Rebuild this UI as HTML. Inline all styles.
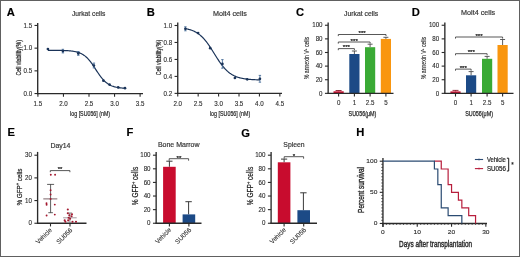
<!DOCTYPE html>
<html><head><meta charset="utf-8"><style>
html,body{margin:0;padding:0;background:#fff;}
body{width:520px;height:257px;overflow:hidden;}
svg{display:block;font-family:"Liberation Sans", sans-serif;will-change:transform;}
</style></head><body>
<svg width="520" height="257" viewBox="0 0 520 257">
<rect x="0" y="0" width="520" height="257" fill="#fff"/>
<text x="6.70" y="15.70" font-size="11.2" text-anchor="start" fill="#000" font-weight="bold" stroke="#000" stroke-width="0.15" >A</text>
<text x="88.70" y="16.20" font-size="7.3" text-anchor="middle" fill="#333" font-weight="normal" textLength="33.40" lengthAdjust="spacingAndGlyphs" stroke="#333" stroke-width="0.18" >Jurkat cells</text>
<line x1="37.70" y1="23.00" x2="37.70" y2="94.15" stroke="#2a2a2a" stroke-width="1.35" />
<line x1="34.50" y1="93.55" x2="37.70" y2="93.55" stroke="#2a2a2a" stroke-width="1.1" />
<text x="32.10" y="95.75" font-size="7.005999999999999" text-anchor="end" fill="#2a2a2a" font-weight="normal" textLength="8.62" lengthAdjust="spacingAndGlyphs" stroke="#2a2a2a" stroke-width="0.12" >0.0</text>
<line x1="34.50" y1="70.85" x2="37.70" y2="70.85" stroke="#2a2a2a" stroke-width="1.1" />
<text x="32.10" y="73.05" font-size="7.005999999999999" text-anchor="end" fill="#2a2a2a" font-weight="normal" textLength="8.62" lengthAdjust="spacingAndGlyphs" stroke="#2a2a2a" stroke-width="0.12" >0.5</text>
<line x1="34.50" y1="48.15" x2="37.70" y2="48.15" stroke="#2a2a2a" stroke-width="1.1" />
<text x="32.10" y="50.35" font-size="7.005999999999999" text-anchor="end" fill="#2a2a2a" font-weight="normal" textLength="8.62" lengthAdjust="spacingAndGlyphs" stroke="#2a2a2a" stroke-width="0.12" >1.0</text>
<line x1="34.50" y1="25.45" x2="37.70" y2="25.45" stroke="#2a2a2a" stroke-width="1.1" />
<text x="32.10" y="27.65" font-size="7.005999999999999" text-anchor="end" fill="#2a2a2a" font-weight="normal" textLength="8.62" lengthAdjust="spacingAndGlyphs" stroke="#2a2a2a" stroke-width="0.12" >1.5</text>
<line x1="37.10" y1="93.55" x2="143.00" y2="93.55" stroke="#2a2a2a" stroke-width="1.35" />
<line x1="37.90" y1="93.55" x2="37.90" y2="96.75" stroke="#2a2a2a" stroke-width="1.1" />
<text x="37.90" y="105.80" font-size="7.005999999999999" text-anchor="middle" fill="#2a2a2a" font-weight="normal" textLength="8.62" lengthAdjust="spacingAndGlyphs" stroke="#2a2a2a" stroke-width="0.12" >1.5</text>
<line x1="63.45" y1="93.55" x2="63.45" y2="96.75" stroke="#2a2a2a" stroke-width="1.1" />
<text x="63.45" y="105.80" font-size="7.005999999999999" text-anchor="middle" fill="#2a2a2a" font-weight="normal" textLength="8.62" lengthAdjust="spacingAndGlyphs" stroke="#2a2a2a" stroke-width="0.12" >2.0</text>
<line x1="89.00" y1="93.55" x2="89.00" y2="96.75" stroke="#2a2a2a" stroke-width="1.1" />
<text x="89.00" y="105.80" font-size="7.005999999999999" text-anchor="middle" fill="#2a2a2a" font-weight="normal" textLength="8.62" lengthAdjust="spacingAndGlyphs" stroke="#2a2a2a" stroke-width="0.12" >2.5</text>
<line x1="114.55" y1="93.55" x2="114.55" y2="96.75" stroke="#2a2a2a" stroke-width="1.1" />
<text x="114.55" y="105.80" font-size="7.005999999999999" text-anchor="middle" fill="#2a2a2a" font-weight="normal" textLength="8.62" lengthAdjust="spacingAndGlyphs" stroke="#2a2a2a" stroke-width="0.12" >3.0</text>
<line x1="140.10" y1="93.55" x2="140.10" y2="96.75" stroke="#2a2a2a" stroke-width="1.1" />
<text x="140.10" y="105.80" font-size="7.005999999999999" text-anchor="middle" fill="#2a2a2a" font-weight="normal" textLength="8.62" lengthAdjust="spacingAndGlyphs" stroke="#2a2a2a" stroke-width="0.12" >3.5</text>
<text x="90.10" y="115.90" font-size="7.3" text-anchor="middle" fill="#2a2a2a" font-weight="normal" textLength="40.00" lengthAdjust="spacingAndGlyphs" stroke="#2a2a2a" stroke-width="0.22" >log [SU056] (nM)</text>
<text x="20.60" y="57.80" font-size="7.6" text-anchor="middle" fill="#2a2a2a" font-weight="normal" textLength="35.50" lengthAdjust="spacingAndGlyphs" transform="rotate(-90 20.60 57.80)" stroke="#2a2a2a" stroke-width="0.25" >Cell viability(%)</text>
<polyline fill="none" stroke="#1a3358" stroke-width="1.2" points="47.90,50.30 48.55,50.30 49.20,50.31 49.84,50.31 50.49,50.31 51.14,50.31 51.79,50.32 52.44,50.32 53.08,50.32 53.73,50.33 54.38,50.33 55.03,50.34 55.67,50.34 56.32,50.35 56.97,50.36 57.62,50.36 58.27,50.37 58.91,50.38 59.56,50.39 60.21,50.41 60.86,50.42 61.51,50.43 62.15,50.45 62.80,50.47 63.45,50.49 64.10,50.51 64.75,50.54 65.39,50.56 66.04,50.60 66.69,50.63 67.34,50.67 67.98,50.71 68.63,50.75 69.28,50.81 69.93,50.86 70.58,50.93 71.22,51.00 71.87,51.07 72.52,51.16 73.17,51.25 73.82,51.36 74.46,51.47 75.11,51.60 75.76,51.74 76.41,51.89 77.06,52.06 77.70,52.24 78.35,52.45 79.00,52.67 79.65,52.92 80.29,53.19 80.94,53.48 81.59,53.80 82.24,54.15 82.89,54.53 83.53,54.94 84.18,55.39 84.83,55.87 85.48,56.39 86.13,56.95 86.77,57.54 87.42,58.18 88.07,58.85 88.72,59.57 89.37,60.33 90.01,61.12 90.66,61.96 91.31,62.82 91.96,63.72 92.61,64.65 93.25,65.60 93.90,66.57 94.55,67.56 95.20,68.56 95.84,69.56 96.49,70.56 97.14,71.55 97.79,72.54 98.44,73.50 99.08,74.45 99.73,75.37 100.38,76.26 101.03,77.11 101.68,77.94 102.32,78.72 102.97,79.47 103.62,80.17 104.27,80.84 104.92,81.46 105.56,82.05 106.21,82.59 106.86,83.10 107.51,83.57 108.15,84.01 108.80,84.41 109.45,84.78 110.10,85.12 110.75,85.44 111.39,85.72 112.04,85.99 112.69,86.23 113.34,86.44 113.99,86.64 114.63,86.82 115.28,86.99 115.93,87.14 116.58,87.27 117.23,87.40 117.87,87.51 118.52,87.61 119.17,87.70 119.82,87.78 120.46,87.86 121.11,87.93 121.76,87.99 122.41,88.04 123.06,88.09 123.70,88.14 124.35,88.18 125.00,88.21"/>
<circle cx="47.90" cy="49.00" r="1.35" fill="#1a3358"/>
<line x1="62.90" y1="49.30" x2="62.90" y2="52.90" stroke="#4a6f9a" stroke-width="0.9" />
<line x1="61.70" y1="49.30" x2="64.10" y2="49.30" stroke="#4a6f9a" stroke-width="0.9" />
<line x1="61.70" y1="52.90" x2="64.10" y2="52.90" stroke="#4a6f9a" stroke-width="0.9" />
<circle cx="62.90" cy="51.10" r="1.35" fill="#1a3358"/>
<line x1="78.30" y1="51.50" x2="78.30" y2="55.30" stroke="#4a6f9a" stroke-width="0.9" />
<line x1="77.10" y1="51.50" x2="79.50" y2="51.50" stroke="#4a6f9a" stroke-width="0.9" />
<line x1="77.10" y1="55.30" x2="79.50" y2="55.30" stroke="#4a6f9a" stroke-width="0.9" />
<circle cx="78.30" cy="53.40" r="1.35" fill="#1a3358"/>
<line x1="93.90" y1="63.10" x2="93.90" y2="67.90" stroke="#4a6f9a" stroke-width="0.9" />
<line x1="92.70" y1="63.10" x2="95.10" y2="63.10" stroke="#4a6f9a" stroke-width="0.9" />
<line x1="92.70" y1="67.90" x2="95.10" y2="67.90" stroke="#4a6f9a" stroke-width="0.9" />
<circle cx="93.90" cy="65.50" r="1.35" fill="#1a3358"/>
<circle cx="103.40" cy="80.70" r="1.35" fill="#1a3358"/>
<circle cx="109.50" cy="84.60" r="1.35" fill="#1a3358"/>
<circle cx="118.20" cy="87.40" r="1.35" fill="#1a3358"/>
<circle cx="125.00" cy="88.20" r="1.35" fill="#1a3358"/>
<text x="146.70" y="15.80" font-size="11.2" text-anchor="start" fill="#000" font-weight="bold" stroke="#000" stroke-width="0.15" >B</text>
<text x="229.90" y="16.20" font-size="7.3" text-anchor="middle" fill="#333" font-weight="normal" textLength="34.00" lengthAdjust="spacingAndGlyphs" stroke="#333" stroke-width="0.18" >Molt4 cells</text>
<line x1="177.75" y1="22.60" x2="177.75" y2="94.00" stroke="#2a2a2a" stroke-width="1.35" />
<line x1="174.55" y1="25.50" x2="177.75" y2="25.50" stroke="#2a2a2a" stroke-width="1.1" />
<text x="172.15" y="27.70" font-size="7.005999999999999" text-anchor="end" fill="#2a2a2a" font-weight="normal" textLength="8.62" lengthAdjust="spacingAndGlyphs" stroke="#2a2a2a" stroke-width="0.12" >1.0</text>
<line x1="174.55" y1="42.47" x2="177.75" y2="42.47" stroke="#2a2a2a" stroke-width="1.1" />
<text x="172.15" y="44.67" font-size="7.005999999999999" text-anchor="end" fill="#2a2a2a" font-weight="normal" textLength="8.62" lengthAdjust="spacingAndGlyphs" stroke="#2a2a2a" stroke-width="0.12" >0.8</text>
<line x1="174.55" y1="59.44" x2="177.75" y2="59.44" stroke="#2a2a2a" stroke-width="1.1" />
<text x="172.15" y="61.64" font-size="7.005999999999999" text-anchor="end" fill="#2a2a2a" font-weight="normal" textLength="8.62" lengthAdjust="spacingAndGlyphs" stroke="#2a2a2a" stroke-width="0.12" >0.6</text>
<line x1="174.55" y1="76.41" x2="177.75" y2="76.41" stroke="#2a2a2a" stroke-width="1.1" />
<text x="172.15" y="78.61" font-size="7.005999999999999" text-anchor="end" fill="#2a2a2a" font-weight="normal" textLength="8.62" lengthAdjust="spacingAndGlyphs" stroke="#2a2a2a" stroke-width="0.12" >0.4</text>
<line x1="174.55" y1="93.38" x2="177.75" y2="93.38" stroke="#2a2a2a" stroke-width="1.1" />
<text x="172.15" y="95.58" font-size="7.005999999999999" text-anchor="end" fill="#2a2a2a" font-weight="normal" textLength="8.62" lengthAdjust="spacingAndGlyphs" stroke="#2a2a2a" stroke-width="0.12" >0.2</text>
<line x1="177.15" y1="93.40" x2="282.00" y2="93.40" stroke="#2a2a2a" stroke-width="1.35" />
<line x1="177.75" y1="93.40" x2="177.75" y2="96.60" stroke="#2a2a2a" stroke-width="1.1" />
<text x="177.75" y="105.80" font-size="7.005999999999999" text-anchor="middle" fill="#2a2a2a" font-weight="normal" textLength="8.62" lengthAdjust="spacingAndGlyphs" stroke="#2a2a2a" stroke-width="0.12" >2.0</text>
<line x1="198.17" y1="93.40" x2="198.17" y2="96.60" stroke="#2a2a2a" stroke-width="1.1" />
<text x="198.17" y="105.80" font-size="7.005999999999999" text-anchor="middle" fill="#2a2a2a" font-weight="normal" textLength="8.62" lengthAdjust="spacingAndGlyphs" stroke="#2a2a2a" stroke-width="0.12" >2.5</text>
<line x1="218.59" y1="93.40" x2="218.59" y2="96.60" stroke="#2a2a2a" stroke-width="1.1" />
<text x="218.59" y="105.80" font-size="7.005999999999999" text-anchor="middle" fill="#2a2a2a" font-weight="normal" textLength="8.62" lengthAdjust="spacingAndGlyphs" stroke="#2a2a2a" stroke-width="0.12" >3.0</text>
<line x1="239.01" y1="93.40" x2="239.01" y2="96.60" stroke="#2a2a2a" stroke-width="1.1" />
<text x="239.01" y="105.80" font-size="7.005999999999999" text-anchor="middle" fill="#2a2a2a" font-weight="normal" textLength="8.62" lengthAdjust="spacingAndGlyphs" stroke="#2a2a2a" stroke-width="0.12" >3.5</text>
<line x1="259.43" y1="93.40" x2="259.43" y2="96.60" stroke="#2a2a2a" stroke-width="1.1" />
<text x="259.43" y="105.80" font-size="7.005999999999999" text-anchor="middle" fill="#2a2a2a" font-weight="normal" textLength="8.62" lengthAdjust="spacingAndGlyphs" stroke="#2a2a2a" stroke-width="0.12" >4.0</text>
<line x1="279.85" y1="93.40" x2="279.85" y2="96.60" stroke="#2a2a2a" stroke-width="1.1" />
<text x="279.85" y="105.80" font-size="7.005999999999999" text-anchor="middle" fill="#2a2a2a" font-weight="normal" textLength="8.62" lengthAdjust="spacingAndGlyphs" stroke="#2a2a2a" stroke-width="0.12" >4.5</text>
<text x="230.10" y="115.90" font-size="7.3" text-anchor="middle" fill="#2a2a2a" font-weight="normal" textLength="40.40" lengthAdjust="spacingAndGlyphs" stroke="#2a2a2a" stroke-width="0.22" >log [SU056] (nM)</text>
<text x="160.70" y="57.60" font-size="7.6" text-anchor="middle" fill="#2a2a2a" font-weight="normal" textLength="35.50" lengthAdjust="spacingAndGlyphs" transform="rotate(-90 160.70 57.60)" stroke="#2a2a2a" stroke-width="0.25" >Cell viability(%)</text>
<polyline fill="none" stroke="#1a3358" stroke-width="1.2" points="185.40,28.62 186.03,28.74 186.65,28.87 187.28,29.00 187.90,29.15 188.53,29.31 189.16,29.47 189.78,29.65 190.41,29.85 191.03,30.05 191.66,30.27 192.29,30.51 192.91,30.76 193.54,31.03 194.16,31.32 194.79,31.62 195.42,31.95 196.04,32.30 196.67,32.67 197.29,33.06 197.92,33.47 198.55,33.91 199.17,34.38 199.80,34.87 200.43,35.39 201.05,35.94 201.68,36.51 202.30,37.12 202.93,37.75 203.56,38.42 204.18,39.11 204.81,39.83 205.43,40.58 206.06,41.36 206.69,42.17 207.31,43.00 207.94,43.86 208.56,44.75 209.19,45.66 209.82,46.58 210.44,47.53 211.07,48.50 211.69,49.47 212.32,50.46 212.95,51.46 213.57,52.47 214.20,53.47 214.82,54.48 215.45,55.49 216.08,56.49 216.70,57.48 217.33,58.46 217.95,59.43 218.58,60.38 219.21,61.31 219.83,62.22 220.46,63.11 221.08,63.98 221.71,64.82 222.34,65.63 222.96,66.42 223.59,67.18 224.22,67.91 224.84,68.61 225.47,69.28 226.09,69.92 226.72,70.53 227.35,71.11 227.97,71.66 228.60,72.19 229.22,72.69 229.85,73.16 230.48,73.60 231.10,74.03 231.73,74.42 232.35,74.80 232.98,75.15 233.61,75.48 234.23,75.79 234.86,76.08 235.48,76.35 236.11,76.61 236.74,76.85 237.36,77.07 237.99,77.28 238.61,77.48 239.24,77.66 239.87,77.83 240.49,77.99 241.12,78.14 241.74,78.28 242.37,78.41 243.00,78.53 243.62,78.64 244.25,78.74 244.87,78.84 245.50,78.93 246.13,79.01 246.75,79.09 247.38,79.16 248.01,79.23 248.63,79.29 249.26,79.35 249.88,79.40 250.51,79.45 251.14,79.50 251.76,79.54 252.39,79.58 253.01,79.62 253.64,79.65 254.27,79.69 254.89,79.72 255.52,79.74 256.14,79.77 256.77,79.79 257.40,79.81 258.02,79.83 258.65,79.85 259.27,79.87 259.90,79.89"/>
<line x1="185.40" y1="26.80" x2="185.40" y2="30.80" stroke="#4a6f9a" stroke-width="0.9" />
<line x1="184.20" y1="26.80" x2="186.60" y2="26.80" stroke="#4a6f9a" stroke-width="0.9" />
<line x1="184.20" y1="30.80" x2="186.60" y2="30.80" stroke="#4a6f9a" stroke-width="0.9" />
<circle cx="185.40" cy="28.80" r="1.35" fill="#1a3358"/>
<circle cx="198.10" cy="33.00" r="1.35" fill="#1a3358"/>
<circle cx="210.20" cy="48.20" r="1.35" fill="#1a3358"/>
<line x1="222.40" y1="59.60" x2="222.40" y2="68.20" stroke="#4a6f9a" stroke-width="0.9" />
<line x1="221.20" y1="59.60" x2="223.60" y2="59.60" stroke="#4a6f9a" stroke-width="0.9" />
<line x1="221.20" y1="68.20" x2="223.60" y2="68.20" stroke="#4a6f9a" stroke-width="0.9" />
<circle cx="222.40" cy="63.90" r="1.35" fill="#1a3358"/>
<circle cx="234.90" cy="78.00" r="1.35" fill="#1a3358"/>
<circle cx="247.20" cy="79.30" r="1.35" fill="#1a3358"/>
<line x1="259.90" y1="75.40" x2="259.90" y2="82.20" stroke="#4a6f9a" stroke-width="0.9" />
<line x1="258.70" y1="75.40" x2="261.10" y2="75.40" stroke="#4a6f9a" stroke-width="0.9" />
<line x1="258.70" y1="82.20" x2="261.10" y2="82.20" stroke="#4a6f9a" stroke-width="0.9" />
<circle cx="259.90" cy="78.80" r="1.35" fill="#1a3358"/>
<text x="296.00" y="15.80" font-size="11.2" text-anchor="start" fill="#000" font-weight="bold" stroke="#000" stroke-width="0.15" >C</text>
<text x="361.10" y="16.20" font-size="7.3" text-anchor="middle" fill="#333" font-weight="normal" textLength="34.10" lengthAdjust="spacingAndGlyphs" stroke="#333" stroke-width="0.18" >Jurkat cells</text>
<line x1="338.60" y1="90.50" x2="338.60" y2="91.30" stroke="#8a1a2a" stroke-width="0.9" />
<line x1="335.60" y1="90.50" x2="341.60" y2="90.50" stroke="#8a1a2a" stroke-width="0.9" />
<rect x="333.50" y="91.30" width="10.20" height="2.05" fill="#c80c2e" />
<line x1="354.40" y1="51.00" x2="354.40" y2="54.00" stroke="#4a4a4a" stroke-width="0.9" />
<line x1="351.90" y1="51.00" x2="356.90" y2="51.00" stroke="#4a4a4a" stroke-width="0.9" />
<rect x="349.30" y="54.00" width="10.20" height="39.35" fill="#1c4a86" />
<line x1="370.10" y1="44.20" x2="370.10" y2="47.20" stroke="#4a4a4a" stroke-width="0.9" />
<line x1="367.60" y1="44.20" x2="372.60" y2="44.20" stroke="#4a4a4a" stroke-width="0.9" />
<rect x="365.00" y="47.20" width="10.20" height="46.15" fill="#3aaa35" />
<line x1="385.90" y1="37.30" x2="385.90" y2="38.90" stroke="#4a4a4a" stroke-width="0.9" />
<line x1="383.40" y1="37.30" x2="388.40" y2="37.30" stroke="#4a4a4a" stroke-width="0.9" />
<rect x="380.80" y="38.90" width="10.20" height="54.45" fill="#f9960f" />
<line x1="328.15" y1="22.40" x2="328.15" y2="93.95" stroke="#2a2a2a" stroke-width="1.35" />
<line x1="324.95" y1="93.35" x2="328.15" y2="93.35" stroke="#2a2a2a" stroke-width="1.1" />
<text x="322.55" y="95.55" font-size="7.005999999999999" text-anchor="end" fill="#2a2a2a" font-weight="normal" textLength="3.45" lengthAdjust="spacingAndGlyphs" stroke="#2a2a2a" stroke-width="0.12" >0</text>
<line x1="324.95" y1="79.73" x2="328.15" y2="79.73" stroke="#2a2a2a" stroke-width="1.1" />
<text x="322.55" y="81.93" font-size="7.005999999999999" text-anchor="end" fill="#2a2a2a" font-weight="normal" textLength="6.89" lengthAdjust="spacingAndGlyphs" stroke="#2a2a2a" stroke-width="0.12" >20</text>
<line x1="324.95" y1="66.11" x2="328.15" y2="66.11" stroke="#2a2a2a" stroke-width="1.1" />
<text x="322.55" y="68.31" font-size="7.005999999999999" text-anchor="end" fill="#2a2a2a" font-weight="normal" textLength="6.89" lengthAdjust="spacingAndGlyphs" stroke="#2a2a2a" stroke-width="0.12" >40</text>
<line x1="324.95" y1="52.49" x2="328.15" y2="52.49" stroke="#2a2a2a" stroke-width="1.1" />
<text x="322.55" y="54.69" font-size="7.005999999999999" text-anchor="end" fill="#2a2a2a" font-weight="normal" textLength="6.89" lengthAdjust="spacingAndGlyphs" stroke="#2a2a2a" stroke-width="0.12" >60</text>
<line x1="324.95" y1="38.87" x2="328.15" y2="38.87" stroke="#2a2a2a" stroke-width="1.1" />
<text x="322.55" y="41.07" font-size="7.005999999999999" text-anchor="end" fill="#2a2a2a" font-weight="normal" textLength="6.89" lengthAdjust="spacingAndGlyphs" stroke="#2a2a2a" stroke-width="0.12" >80</text>
<line x1="324.95" y1="25.25" x2="328.15" y2="25.25" stroke="#2a2a2a" stroke-width="1.1" />
<text x="322.55" y="27.45" font-size="7.005999999999999" text-anchor="end" fill="#2a2a2a" font-weight="normal" textLength="10.34" lengthAdjust="spacingAndGlyphs" stroke="#2a2a2a" stroke-width="0.12" >100</text>
<line x1="327.55" y1="93.35" x2="393.50" y2="93.35" stroke="#2a2a2a" stroke-width="1.35" />
<line x1="338.60" y1="93.35" x2="338.60" y2="96.55" stroke="#2a2a2a" stroke-width="1.1" />
<text x="338.60" y="104.90" font-size="7.005999999999999" text-anchor="middle" fill="#2a2a2a" font-weight="normal" textLength="3.45" lengthAdjust="spacingAndGlyphs" stroke="#2a2a2a" stroke-width="0.12" >0</text>
<line x1="354.40" y1="93.35" x2="354.40" y2="96.55" stroke="#2a2a2a" stroke-width="1.1" />
<text x="354.40" y="104.90" font-size="7.005999999999999" text-anchor="middle" fill="#2a2a2a" font-weight="normal" textLength="3.45" lengthAdjust="spacingAndGlyphs" stroke="#2a2a2a" stroke-width="0.12" >1</text>
<line x1="370.10" y1="93.35" x2="370.10" y2="96.55" stroke="#2a2a2a" stroke-width="1.1" />
<text x="370.10" y="104.90" font-size="7.005999999999999" text-anchor="middle" fill="#2a2a2a" font-weight="normal" textLength="8.62" lengthAdjust="spacingAndGlyphs" stroke="#2a2a2a" stroke-width="0.12" >2.5</text>
<line x1="385.90" y1="93.35" x2="385.90" y2="96.55" stroke="#2a2a2a" stroke-width="1.1" />
<text x="385.90" y="104.90" font-size="7.005999999999999" text-anchor="middle" fill="#2a2a2a" font-weight="normal" textLength="3.45" lengthAdjust="spacingAndGlyphs" stroke="#2a2a2a" stroke-width="0.12" >5</text>
<polyline points="338.30,50.20 338.30,48.60 354.40,48.60 354.40,50.20" fill="none" stroke="#3a3a3a" stroke-width="0.85"/>
<text x="346.35" y="49.20" font-size="6.2" text-anchor="middle" fill="#222" font-weight="normal" stroke="#222" stroke-width="0.22" >***</text>
<polyline points="338.30,43.60 338.30,42.00 370.10,42.00 370.10,43.60" fill="none" stroke="#3a3a3a" stroke-width="0.85"/>
<text x="354.20" y="42.60" font-size="6.2" text-anchor="middle" fill="#222" font-weight="normal" stroke="#222" stroke-width="0.22" >***</text>
<polyline points="338.30,36.10 338.30,34.50 386.00,34.50 386.00,36.10" fill="none" stroke="#3a3a3a" stroke-width="0.85"/>
<text x="362.15" y="35.10" font-size="6.2" text-anchor="middle" fill="#222" font-weight="normal" stroke="#222" stroke-width="0.22" >***</text>
<text x="309.40" y="58.00" font-size="7.0" text-anchor="middle" fill="#2a2a2a" font-weight="normal" textLength="42.40" lengthAdjust="spacingAndGlyphs" transform="rotate(-90 309.40 58.00)" stroke="#2a2a2a" stroke-width="0.15" >% annexin V<tspan font-size="4.4" dy="-2.6">+</tspan><tspan dy="2.6"> cells</tspan></text>
<text x="362.50" y="115.80" font-size="7.3" text-anchor="middle" fill="#2a2a2a" font-weight="normal" textLength="27.80" lengthAdjust="spacingAndGlyphs" stroke="#2a2a2a" stroke-width="0.25" >SU056(μM)</text>
<text x="411.80" y="15.60" font-size="11.2" text-anchor="start" fill="#000" font-weight="bold" stroke="#000" stroke-width="0.15" >D</text>
<text x="478.10" y="15.20" font-size="7.3" text-anchor="middle" fill="#333" font-weight="normal" textLength="34.00" lengthAdjust="spacingAndGlyphs" stroke="#333" stroke-width="0.18" >Molt4 cells</text>
<line x1="455.50" y1="90.40" x2="455.50" y2="91.40" stroke="#8a1a2a" stroke-width="0.9" />
<line x1="452.50" y1="90.40" x2="458.50" y2="90.40" stroke="#8a1a2a" stroke-width="0.9" />
<rect x="450.40" y="91.40" width="10.20" height="1.95" fill="#c80c2e" />
<line x1="471.10" y1="71.60" x2="471.10" y2="75.30" stroke="#4a4a4a" stroke-width="0.9" />
<line x1="468.60" y1="71.60" x2="473.60" y2="71.60" stroke="#4a4a4a" stroke-width="0.9" />
<rect x="466.00" y="75.30" width="10.20" height="18.05" fill="#1c4a86" />
<line x1="487.10" y1="56.40" x2="487.10" y2="58.80" stroke="#4a4a4a" stroke-width="0.9" />
<line x1="484.60" y1="56.40" x2="489.60" y2="56.40" stroke="#4a4a4a" stroke-width="0.9" />
<rect x="482.00" y="58.80" width="10.20" height="34.55" fill="#3aaa35" />
<line x1="502.60" y1="39.50" x2="502.60" y2="45.00" stroke="#4a4a4a" stroke-width="0.9" />
<line x1="500.10" y1="39.50" x2="505.10" y2="39.50" stroke="#4a4a4a" stroke-width="0.9" />
<rect x="497.50" y="45.00" width="10.20" height="48.35" fill="#f9960f" />
<line x1="444.85" y1="22.40" x2="444.85" y2="93.95" stroke="#2a2a2a" stroke-width="1.35" />
<line x1="441.65" y1="93.35" x2="444.85" y2="93.35" stroke="#2a2a2a" stroke-width="1.1" />
<text x="439.25" y="95.55" font-size="7.005999999999999" text-anchor="end" fill="#2a2a2a" font-weight="normal" textLength="3.45" lengthAdjust="spacingAndGlyphs" stroke="#2a2a2a" stroke-width="0.12" >0</text>
<line x1="441.65" y1="79.73" x2="444.85" y2="79.73" stroke="#2a2a2a" stroke-width="1.1" />
<text x="439.25" y="81.93" font-size="7.005999999999999" text-anchor="end" fill="#2a2a2a" font-weight="normal" textLength="6.89" lengthAdjust="spacingAndGlyphs" stroke="#2a2a2a" stroke-width="0.12" >20</text>
<line x1="441.65" y1="66.11" x2="444.85" y2="66.11" stroke="#2a2a2a" stroke-width="1.1" />
<text x="439.25" y="68.31" font-size="7.005999999999999" text-anchor="end" fill="#2a2a2a" font-weight="normal" textLength="6.89" lengthAdjust="spacingAndGlyphs" stroke="#2a2a2a" stroke-width="0.12" >40</text>
<line x1="441.65" y1="52.49" x2="444.85" y2="52.49" stroke="#2a2a2a" stroke-width="1.1" />
<text x="439.25" y="54.69" font-size="7.005999999999999" text-anchor="end" fill="#2a2a2a" font-weight="normal" textLength="6.89" lengthAdjust="spacingAndGlyphs" stroke="#2a2a2a" stroke-width="0.12" >60</text>
<line x1="441.65" y1="38.87" x2="444.85" y2="38.87" stroke="#2a2a2a" stroke-width="1.1" />
<text x="439.25" y="41.07" font-size="7.005999999999999" text-anchor="end" fill="#2a2a2a" font-weight="normal" textLength="6.89" lengthAdjust="spacingAndGlyphs" stroke="#2a2a2a" stroke-width="0.12" >80</text>
<line x1="441.65" y1="25.25" x2="444.85" y2="25.25" stroke="#2a2a2a" stroke-width="1.1" />
<text x="439.25" y="27.45" font-size="7.005999999999999" text-anchor="end" fill="#2a2a2a" font-weight="normal" textLength="10.34" lengthAdjust="spacingAndGlyphs" stroke="#2a2a2a" stroke-width="0.12" >100</text>
<line x1="444.25" y1="93.35" x2="513.50" y2="93.35" stroke="#2a2a2a" stroke-width="1.35" />
<line x1="455.50" y1="93.35" x2="455.50" y2="96.55" stroke="#2a2a2a" stroke-width="1.1" />
<text x="455.50" y="104.90" font-size="7.005999999999999" text-anchor="middle" fill="#2a2a2a" font-weight="normal" textLength="3.45" lengthAdjust="spacingAndGlyphs" stroke="#2a2a2a" stroke-width="0.12" >0</text>
<line x1="471.10" y1="93.35" x2="471.10" y2="96.55" stroke="#2a2a2a" stroke-width="1.1" />
<text x="471.10" y="104.90" font-size="7.005999999999999" text-anchor="middle" fill="#2a2a2a" font-weight="normal" textLength="3.45" lengthAdjust="spacingAndGlyphs" stroke="#2a2a2a" stroke-width="0.12" >1</text>
<line x1="487.10" y1="93.35" x2="487.10" y2="96.55" stroke="#2a2a2a" stroke-width="1.1" />
<text x="487.10" y="104.90" font-size="7.005999999999999" text-anchor="middle" fill="#2a2a2a" font-weight="normal" textLength="8.62" lengthAdjust="spacingAndGlyphs" stroke="#2a2a2a" stroke-width="0.12" >2.5</text>
<line x1="502.60" y1="93.35" x2="502.60" y2="96.55" stroke="#2a2a2a" stroke-width="1.1" />
<text x="502.60" y="104.90" font-size="7.005999999999999" text-anchor="middle" fill="#2a2a2a" font-weight="normal" textLength="3.45" lengthAdjust="spacingAndGlyphs" stroke="#2a2a2a" stroke-width="0.12" >5</text>
<polyline points="455.50,70.70 455.50,69.10 471.10,69.10 471.10,70.70" fill="none" stroke="#3a3a3a" stroke-width="0.85"/>
<text x="463.30" y="69.70" font-size="6.2" text-anchor="middle" fill="#222" font-weight="normal" stroke="#222" stroke-width="0.22" >***</text>
<polyline points="455.50,55.30 455.50,53.70 487.10,53.70 487.10,55.30" fill="none" stroke="#3a3a3a" stroke-width="0.85"/>
<text x="471.30" y="54.30" font-size="6.2" text-anchor="middle" fill="#222" font-weight="normal" stroke="#222" stroke-width="0.22" >***</text>
<polyline points="455.50,38.60 455.50,37.00 502.60,37.00 502.60,38.60" fill="none" stroke="#3a3a3a" stroke-width="0.85"/>
<text x="479.05" y="37.60" font-size="6.2" text-anchor="middle" fill="#222" font-weight="normal" stroke="#222" stroke-width="0.22" >***</text>
<text x="426.40" y="58.00" font-size="7.0" text-anchor="middle" fill="#2a2a2a" font-weight="normal" textLength="42.40" lengthAdjust="spacingAndGlyphs" transform="rotate(-90 426.40 58.00)" stroke="#2a2a2a" stroke-width="0.15" >% annexin V<tspan font-size="4.4" dy="-2.6">+</tspan><tspan dy="2.6"> cells</tspan></text>
<text x="479.10" y="115.80" font-size="7.3" text-anchor="middle" fill="#2a2a2a" font-weight="normal" textLength="27.80" lengthAdjust="spacingAndGlyphs" stroke="#2a2a2a" stroke-width="0.25" >SU056(μM)</text>
<text x="7.60" y="136.20" font-size="11.2" text-anchor="start" fill="#000" font-weight="bold" stroke="#000" stroke-width="0.15" >E</text>
<text x="60.40" y="147.50" font-size="7.2" text-anchor="middle" fill="#333" font-weight="normal" textLength="20.00" lengthAdjust="spacingAndGlyphs" stroke="#333" stroke-width="0.18" >Day14</text>
<line x1="37.60" y1="151.90" x2="37.60" y2="223.85" stroke="#2a2a2a" stroke-width="1.35" />
<line x1="34.40" y1="223.25" x2="37.60" y2="223.25" stroke="#2a2a2a" stroke-width="1.1" />
<text x="32.00" y="225.45" font-size="7.005999999999999" text-anchor="end" fill="#2a2a2a" font-weight="normal" textLength="3.45" lengthAdjust="spacingAndGlyphs" stroke="#2a2a2a" stroke-width="0.12" >0</text>
<line x1="34.40" y1="200.57" x2="37.60" y2="200.57" stroke="#2a2a2a" stroke-width="1.1" />
<text x="32.00" y="202.77" font-size="7.005999999999999" text-anchor="end" fill="#2a2a2a" font-weight="normal" textLength="6.89" lengthAdjust="spacingAndGlyphs" stroke="#2a2a2a" stroke-width="0.12" >10</text>
<line x1="34.40" y1="177.89" x2="37.60" y2="177.89" stroke="#2a2a2a" stroke-width="1.1" />
<text x="32.00" y="180.09" font-size="7.005999999999999" text-anchor="end" fill="#2a2a2a" font-weight="normal" textLength="6.89" lengthAdjust="spacingAndGlyphs" stroke="#2a2a2a" stroke-width="0.12" >20</text>
<line x1="34.40" y1="155.21" x2="37.60" y2="155.21" stroke="#2a2a2a" stroke-width="1.1" />
<text x="32.00" y="157.41" font-size="7.005999999999999" text-anchor="end" fill="#2a2a2a" font-weight="normal" textLength="6.89" lengthAdjust="spacingAndGlyphs" stroke="#2a2a2a" stroke-width="0.12" >30</text>
<line x1="37.00" y1="223.25" x2="86.50" y2="223.25" stroke="#2a2a2a" stroke-width="1.35" />
<line x1="50.50" y1="223.25" x2="50.50" y2="226.45" stroke="#2a2a2a" stroke-width="1.1" />
<line x1="70.00" y1="223.25" x2="70.00" y2="226.45" stroke="#2a2a2a" stroke-width="1.1" />
<text x="21.60" y="187.00" font-size="7.8" text-anchor="middle" fill="#2a2a2a" font-weight="normal" textLength="37.00" lengthAdjust="spacingAndGlyphs" transform="rotate(-90 21.60 187.00)" stroke="#2a2a2a" stroke-width="0.25" >% GFP<tspan font-size="4.8" dy="-2.8">+</tspan><tspan dy="2.8"> cells</tspan></text>
<polyline points="50.30,172.20 50.30,170.60 69.90,170.60 69.90,172.20" fill="none" stroke="#3a3a3a" stroke-width="0.85"/>
<text x="60.10" y="170.70" font-size="5.8" text-anchor="middle" fill="#222" font-weight="normal" stroke="#222" stroke-width="0.22" >**</text>
<line x1="50.60" y1="184.40" x2="50.60" y2="212.70" stroke="#333" stroke-width="0.8" />
<line x1="47.10" y1="184.40" x2="54.10" y2="184.40" stroke="#333" stroke-width="0.8" />
<line x1="48.30" y1="212.70" x2="52.90" y2="212.70" stroke="#333" stroke-width="0.8" />
<line x1="43.30" y1="198.90" x2="57.30" y2="198.90" stroke="#5a3a40" stroke-width="0.8" />
<circle cx="50.80" cy="174.80" r="0.95" fill="#a3182f"/>
<circle cx="55.10" cy="174.80" r="0.95" fill="#a3182f"/>
<circle cx="50.60" cy="190.20" r="0.95" fill="#a3182f"/>
<circle cx="50.60" cy="194.50" r="0.95" fill="#a3182f"/>
<circle cx="50.60" cy="198.90" r="0.95" fill="#a3182f"/>
<circle cx="46.50" cy="203.20" r="0.95" fill="#a3182f"/>
<circle cx="46.60" cy="204.80" r="0.95" fill="#a3182f"/>
<circle cx="54.80" cy="204.60" r="0.95" fill="#a3182f"/>
<circle cx="46.60" cy="215.50" r="0.95" fill="#a3182f"/>
<circle cx="54.80" cy="214.60" r="0.95" fill="#a3182f"/>
<line x1="69.90" y1="213.00" x2="69.90" y2="222.50" stroke="#555" stroke-width="0.7" />
<line x1="67.70" y1="213.00" x2="72.10" y2="213.00" stroke="#555" stroke-width="0.7" />
<line x1="63.10" y1="217.80" x2="76.70" y2="217.80" stroke="#8a8088" stroke-width="0.8" />
<circle cx="67.80" cy="209.50" r="1.05" fill="#a3182f"/>
<circle cx="67.80" cy="213.20" r="1.05" fill="#a3182f"/>
<circle cx="72.00" cy="214.20" r="1.05" fill="#a3182f"/>
<circle cx="69.30" cy="215.30" r="1.05" fill="#a3182f"/>
<circle cx="71.60" cy="216.20" r="1.05" fill="#a3182f"/>
<circle cx="68.60" cy="217.70" r="1.05" fill="#a3182f"/>
<circle cx="70.10" cy="218.80" r="1.05" fill="#a3182f"/>
<circle cx="64.70" cy="220.40" r="1.05" fill="#a3182f"/>
<circle cx="68.20" cy="220.40" r="1.05" fill="#a3182f"/>
<circle cx="72.50" cy="221.80" r="1.05" fill="#a3182f"/>
<circle cx="76.00" cy="221.80" r="1.05" fill="#a3182f"/>
<circle cx="65.40" cy="221.80" r="1.05" fill="#a3182f"/>
<text x="52.40" y="230.60" font-size="6.6" text-anchor="end" fill="#2a2a2a" font-weight="normal" textLength="19.50" lengthAdjust="spacingAndGlyphs" transform="rotate(-45 52.40 230.60)" stroke="#2a2a2a" stroke-width="0.08" >Vehicle</text>
<text x="72.90" y="230.60" font-size="6.6" text-anchor="end" fill="#2a2a2a" font-weight="normal" textLength="19.80" lengthAdjust="spacingAndGlyphs" transform="rotate(-45 72.90 230.60)" stroke="#2a2a2a" stroke-width="0.08" >SU056</text>
<text x="126.40" y="136.40" font-size="11.2" text-anchor="start" fill="#000" font-weight="bold" stroke="#000" stroke-width="0.15" >F</text>
<text x="178.75" y="147.40" font-size="7.2" text-anchor="middle" fill="#333" font-weight="normal" textLength="41.70" lengthAdjust="spacingAndGlyphs" stroke="#333" stroke-width="0.18" >Bone Marrow</text>
<line x1="169.40" y1="161.20" x2="169.40" y2="166.80" stroke="#3a3a3a" stroke-width="1.0" />
<line x1="166.30" y1="161.20" x2="172.50" y2="161.20" stroke="#3a3a3a" stroke-width="1.0" />
<line x1="188.60" y1="201.70" x2="188.60" y2="214.40" stroke="#3a3a3a" stroke-width="1.0" />
<line x1="185.40" y1="201.70" x2="191.80" y2="201.70" stroke="#3a3a3a" stroke-width="1.0" />
<rect x="163.10" y="166.80" width="12.60" height="56.45" fill="#c80c2e" />
<rect x="182.60" y="214.40" width="12.60" height="8.85" fill="#1c4a86" />
<line x1="156.15" y1="152.00" x2="156.15" y2="223.85" stroke="#2a2a2a" stroke-width="1.35" />
<line x1="152.95" y1="223.25" x2="156.15" y2="223.25" stroke="#2a2a2a" stroke-width="1.1" />
<text x="150.55" y="225.45" font-size="7.005999999999999" text-anchor="end" fill="#2a2a2a" font-weight="normal" textLength="3.45" lengthAdjust="spacingAndGlyphs" stroke="#2a2a2a" stroke-width="0.12" >0</text>
<line x1="152.95" y1="209.64" x2="156.15" y2="209.64" stroke="#2a2a2a" stroke-width="1.1" />
<text x="150.55" y="211.84" font-size="7.005999999999999" text-anchor="end" fill="#2a2a2a" font-weight="normal" textLength="6.89" lengthAdjust="spacingAndGlyphs" stroke="#2a2a2a" stroke-width="0.12" >20</text>
<line x1="152.95" y1="196.03" x2="156.15" y2="196.03" stroke="#2a2a2a" stroke-width="1.1" />
<text x="150.55" y="198.23" font-size="7.005999999999999" text-anchor="end" fill="#2a2a2a" font-weight="normal" textLength="6.89" lengthAdjust="spacingAndGlyphs" stroke="#2a2a2a" stroke-width="0.12" >40</text>
<line x1="152.95" y1="182.42" x2="156.15" y2="182.42" stroke="#2a2a2a" stroke-width="1.1" />
<text x="150.55" y="184.62" font-size="7.005999999999999" text-anchor="end" fill="#2a2a2a" font-weight="normal" textLength="6.89" lengthAdjust="spacingAndGlyphs" stroke="#2a2a2a" stroke-width="0.12" >60</text>
<line x1="152.95" y1="168.81" x2="156.15" y2="168.81" stroke="#2a2a2a" stroke-width="1.1" />
<text x="150.55" y="171.01" font-size="7.005999999999999" text-anchor="end" fill="#2a2a2a" font-weight="normal" textLength="6.89" lengthAdjust="spacingAndGlyphs" stroke="#2a2a2a" stroke-width="0.12" >80</text>
<line x1="152.95" y1="155.20" x2="156.15" y2="155.20" stroke="#2a2a2a" stroke-width="1.1" />
<text x="150.55" y="157.40" font-size="7.005999999999999" text-anchor="end" fill="#2a2a2a" font-weight="normal" textLength="10.34" lengthAdjust="spacingAndGlyphs" stroke="#2a2a2a" stroke-width="0.12" >100</text>
<line x1="155.55" y1="223.25" x2="201.50" y2="223.25" stroke="#2a2a2a" stroke-width="1.35" />
<line x1="169.40" y1="223.25" x2="169.40" y2="226.45" stroke="#2a2a2a" stroke-width="1.1" />
<line x1="188.90" y1="223.25" x2="188.90" y2="226.45" stroke="#2a2a2a" stroke-width="1.1" />
<polyline points="169.20,160.70 169.20,158.70 188.60,158.70 188.60,160.70" fill="none" stroke="#3a3a3a" stroke-width="0.85"/>
<text x="178.90" y="159.60" font-size="6.2" text-anchor="middle" fill="#222" font-weight="normal" stroke="#222" stroke-width="0.22" >**</text>
<text x="138.00" y="186.00" font-size="8.4" text-anchor="middle" fill="#2a2a2a" font-weight="normal" textLength="38.40" lengthAdjust="spacingAndGlyphs" transform="rotate(-90 138.00 186.00)" stroke="#2a2a2a" stroke-width="0.25" >% GFP<tspan font-size="5.0" dy="-2.9">+</tspan><tspan dy="2.9"> cells</tspan></text>
<text x="171.70" y="230.40" font-size="6.6" text-anchor="end" fill="#2a2a2a" font-weight="normal" textLength="19.50" lengthAdjust="spacingAndGlyphs" transform="rotate(-45 171.70 230.40)" stroke="#2a2a2a" stroke-width="0.08" >Vehicle</text>
<text x="191.70" y="230.40" font-size="6.6" text-anchor="end" fill="#2a2a2a" font-weight="normal" textLength="19.80" lengthAdjust="spacingAndGlyphs" transform="rotate(-45 191.70 230.40)" stroke="#2a2a2a" stroke-width="0.08" >SU056</text>
<text x="241.30" y="136.50" font-size="11.2" text-anchor="start" fill="#000" font-weight="bold" stroke="#000" stroke-width="0.15" >G</text>
<text x="294.00" y="147.40" font-size="7.2" text-anchor="middle" fill="#333" font-weight="normal" textLength="21.30" lengthAdjust="spacingAndGlyphs" stroke="#333" stroke-width="0.18" >Spleen</text>
<line x1="284.10" y1="159.10" x2="284.10" y2="162.30" stroke="#3a3a3a" stroke-width="1.0" />
<line x1="281.00" y1="159.10" x2="287.20" y2="159.10" stroke="#3a3a3a" stroke-width="1.0" />
<line x1="303.40" y1="192.80" x2="303.40" y2="210.20" stroke="#3a3a3a" stroke-width="1.0" />
<line x1="300.20" y1="192.80" x2="306.60" y2="192.80" stroke="#3a3a3a" stroke-width="1.0" />
<rect x="277.80" y="162.30" width="12.60" height="60.95" fill="#c80c2e" />
<rect x="297.40" y="210.20" width="12.60" height="13.05" fill="#1c4a86" />
<line x1="271.10" y1="152.00" x2="271.10" y2="223.85" stroke="#2a2a2a" stroke-width="1.35" />
<line x1="267.90" y1="223.25" x2="271.10" y2="223.25" stroke="#2a2a2a" stroke-width="1.1" />
<text x="265.50" y="225.45" font-size="7.005999999999999" text-anchor="end" fill="#2a2a2a" font-weight="normal" textLength="3.45" lengthAdjust="spacingAndGlyphs" stroke="#2a2a2a" stroke-width="0.12" >0</text>
<line x1="267.90" y1="209.64" x2="271.10" y2="209.64" stroke="#2a2a2a" stroke-width="1.1" />
<text x="265.50" y="211.84" font-size="7.005999999999999" text-anchor="end" fill="#2a2a2a" font-weight="normal" textLength="6.89" lengthAdjust="spacingAndGlyphs" stroke="#2a2a2a" stroke-width="0.12" >20</text>
<line x1="267.90" y1="196.03" x2="271.10" y2="196.03" stroke="#2a2a2a" stroke-width="1.1" />
<text x="265.50" y="198.23" font-size="7.005999999999999" text-anchor="end" fill="#2a2a2a" font-weight="normal" textLength="6.89" lengthAdjust="spacingAndGlyphs" stroke="#2a2a2a" stroke-width="0.12" >40</text>
<line x1="267.90" y1="182.42" x2="271.10" y2="182.42" stroke="#2a2a2a" stroke-width="1.1" />
<text x="265.50" y="184.62" font-size="7.005999999999999" text-anchor="end" fill="#2a2a2a" font-weight="normal" textLength="6.89" lengthAdjust="spacingAndGlyphs" stroke="#2a2a2a" stroke-width="0.12" >60</text>
<line x1="267.90" y1="168.81" x2="271.10" y2="168.81" stroke="#2a2a2a" stroke-width="1.1" />
<text x="265.50" y="171.01" font-size="7.005999999999999" text-anchor="end" fill="#2a2a2a" font-weight="normal" textLength="6.89" lengthAdjust="spacingAndGlyphs" stroke="#2a2a2a" stroke-width="0.12" >80</text>
<line x1="267.90" y1="155.20" x2="271.10" y2="155.20" stroke="#2a2a2a" stroke-width="1.1" />
<text x="265.50" y="157.40" font-size="7.005999999999999" text-anchor="end" fill="#2a2a2a" font-weight="normal" textLength="10.34" lengthAdjust="spacingAndGlyphs" stroke="#2a2a2a" stroke-width="0.12" >100</text>
<line x1="270.50" y1="223.25" x2="317.00" y2="223.25" stroke="#2a2a2a" stroke-width="1.35" />
<line x1="284.10" y1="223.25" x2="284.10" y2="226.45" stroke="#2a2a2a" stroke-width="1.1" />
<line x1="303.70" y1="223.25" x2="303.70" y2="226.45" stroke="#2a2a2a" stroke-width="1.1" />
<polyline points="284.20,158.70 284.20,156.70 303.60,156.70 303.60,158.70" fill="none" stroke="#3a3a3a" stroke-width="0.85"/>
<text x="293.90" y="157.60" font-size="6.2" text-anchor="middle" fill="#222" font-weight="normal" stroke="#222" stroke-width="0.22" >*</text>
<text x="252.90" y="186.00" font-size="8.4" text-anchor="middle" fill="#2a2a2a" font-weight="normal" textLength="38.40" lengthAdjust="spacingAndGlyphs" transform="rotate(-90 252.90 186.00)" stroke="#2a2a2a" stroke-width="0.25" >% GFP<tspan font-size="5.0" dy="-2.9">+</tspan><tspan dy="2.9"> cells</tspan></text>
<text x="286.40" y="230.40" font-size="6.6" text-anchor="end" fill="#2a2a2a" font-weight="normal" textLength="19.50" lengthAdjust="spacingAndGlyphs" transform="rotate(-45 286.40 230.40)" stroke="#2a2a2a" stroke-width="0.08" >Vehicle</text>
<text x="306.50" y="230.40" font-size="6.6" text-anchor="end" fill="#2a2a2a" font-weight="normal" textLength="19.80" lengthAdjust="spacingAndGlyphs" transform="rotate(-45 306.50 230.40)" stroke="#2a2a2a" stroke-width="0.08" >SU056</text>
<text x="356.20" y="136.40" font-size="11.2" text-anchor="start" fill="#000" font-weight="bold" stroke="#000" stroke-width="0.15" >H</text>
<line x1="381.20" y1="220.34" x2="382.95" y2="220.34" stroke="#2a2a2a" stroke-width="0.7" />
<line x1="381.20" y1="217.22" x2="382.95" y2="217.22" stroke="#2a2a2a" stroke-width="0.7" />
<line x1="381.20" y1="214.11" x2="382.95" y2="214.11" stroke="#2a2a2a" stroke-width="0.7" />
<line x1="381.20" y1="211.00" x2="382.95" y2="211.00" stroke="#2a2a2a" stroke-width="0.7" />
<line x1="381.20" y1="207.89" x2="382.95" y2="207.89" stroke="#2a2a2a" stroke-width="0.7" />
<line x1="381.20" y1="204.77" x2="382.95" y2="204.77" stroke="#2a2a2a" stroke-width="0.7" />
<line x1="381.20" y1="201.66" x2="382.95" y2="201.66" stroke="#2a2a2a" stroke-width="0.7" />
<line x1="381.20" y1="198.55" x2="382.95" y2="198.55" stroke="#2a2a2a" stroke-width="0.7" />
<line x1="381.20" y1="195.44" x2="382.95" y2="195.44" stroke="#2a2a2a" stroke-width="0.7" />
<line x1="381.20" y1="189.21" x2="382.95" y2="189.21" stroke="#2a2a2a" stroke-width="0.7" />
<line x1="381.20" y1="186.10" x2="382.95" y2="186.10" stroke="#2a2a2a" stroke-width="0.7" />
<line x1="381.20" y1="182.99" x2="382.95" y2="182.99" stroke="#2a2a2a" stroke-width="0.7" />
<line x1="381.20" y1="179.88" x2="382.95" y2="179.88" stroke="#2a2a2a" stroke-width="0.7" />
<line x1="381.20" y1="176.76" x2="382.95" y2="176.76" stroke="#2a2a2a" stroke-width="0.7" />
<line x1="381.20" y1="173.65" x2="382.95" y2="173.65" stroke="#2a2a2a" stroke-width="0.7" />
<line x1="381.20" y1="170.54" x2="382.95" y2="170.54" stroke="#2a2a2a" stroke-width="0.7" />
<line x1="381.20" y1="167.42" x2="382.95" y2="167.42" stroke="#2a2a2a" stroke-width="0.7" />
<line x1="381.20" y1="164.31" x2="382.95" y2="164.31" stroke="#2a2a2a" stroke-width="0.7" />
<line x1="386.38" y1="223.45" x2="386.38" y2="225.00" stroke="#2a2a2a" stroke-width="0.7" />
<line x1="389.81" y1="223.45" x2="389.81" y2="225.00" stroke="#2a2a2a" stroke-width="0.7" />
<line x1="393.24" y1="223.45" x2="393.24" y2="225.00" stroke="#2a2a2a" stroke-width="0.7" />
<line x1="396.67" y1="223.45" x2="396.67" y2="225.00" stroke="#2a2a2a" stroke-width="0.7" />
<line x1="400.10" y1="223.45" x2="400.10" y2="225.00" stroke="#2a2a2a" stroke-width="0.7" />
<line x1="403.53" y1="223.45" x2="403.53" y2="225.00" stroke="#2a2a2a" stroke-width="0.7" />
<line x1="406.96" y1="223.45" x2="406.96" y2="225.00" stroke="#2a2a2a" stroke-width="0.7" />
<line x1="410.39" y1="223.45" x2="410.39" y2="225.00" stroke="#2a2a2a" stroke-width="0.7" />
<line x1="413.82" y1="223.45" x2="413.82" y2="225.00" stroke="#2a2a2a" stroke-width="0.7" />
<line x1="420.68" y1="223.45" x2="420.68" y2="225.00" stroke="#2a2a2a" stroke-width="0.7" />
<line x1="424.11" y1="223.45" x2="424.11" y2="225.00" stroke="#2a2a2a" stroke-width="0.7" />
<line x1="427.54" y1="223.45" x2="427.54" y2="225.00" stroke="#2a2a2a" stroke-width="0.7" />
<line x1="430.97" y1="223.45" x2="430.97" y2="225.00" stroke="#2a2a2a" stroke-width="0.7" />
<line x1="434.40" y1="223.45" x2="434.40" y2="225.00" stroke="#2a2a2a" stroke-width="0.7" />
<line x1="437.83" y1="223.45" x2="437.83" y2="225.00" stroke="#2a2a2a" stroke-width="0.7" />
<line x1="441.26" y1="223.45" x2="441.26" y2="225.00" stroke="#2a2a2a" stroke-width="0.7" />
<line x1="444.69" y1="223.45" x2="444.69" y2="225.00" stroke="#2a2a2a" stroke-width="0.7" />
<line x1="448.12" y1="223.45" x2="448.12" y2="225.00" stroke="#2a2a2a" stroke-width="0.7" />
<line x1="454.98" y1="223.45" x2="454.98" y2="225.00" stroke="#2a2a2a" stroke-width="0.7" />
<line x1="458.41" y1="223.45" x2="458.41" y2="225.00" stroke="#2a2a2a" stroke-width="0.7" />
<line x1="461.84" y1="223.45" x2="461.84" y2="225.00" stroke="#2a2a2a" stroke-width="0.7" />
<line x1="465.27" y1="223.45" x2="465.27" y2="225.00" stroke="#2a2a2a" stroke-width="0.7" />
<line x1="468.70" y1="223.45" x2="468.70" y2="225.00" stroke="#2a2a2a" stroke-width="0.7" />
<line x1="472.13" y1="223.45" x2="472.13" y2="225.00" stroke="#2a2a2a" stroke-width="0.7" />
<line x1="475.56" y1="223.45" x2="475.56" y2="225.00" stroke="#2a2a2a" stroke-width="0.7" />
<line x1="478.99" y1="223.45" x2="478.99" y2="225.00" stroke="#2a2a2a" stroke-width="0.7" />
<line x1="482.42" y1="223.45" x2="482.42" y2="225.00" stroke="#2a2a2a" stroke-width="0.7" />
<line x1="382.95" y1="157.90" x2="382.95" y2="227.00" stroke="#2a2a2a" stroke-width="1.35" />
<line x1="379.75" y1="223.45" x2="382.95" y2="223.45" stroke="#2a2a2a" stroke-width="1.1" />
<text x="377.35" y="225.45" font-size="6.072" text-anchor="end" fill="#2a2a2a" font-weight="normal" textLength="3.67" lengthAdjust="spacingAndGlyphs" stroke="#2a2a2a" stroke-width="0.12" >0</text>
<line x1="379.75" y1="192.32" x2="382.95" y2="192.32" stroke="#2a2a2a" stroke-width="1.1" />
<text x="377.35" y="194.32" font-size="6.072" text-anchor="end" fill="#2a2a2a" font-weight="normal" textLength="7.34" lengthAdjust="spacingAndGlyphs" stroke="#2a2a2a" stroke-width="0.12" >50</text>
<line x1="379.75" y1="161.20" x2="382.95" y2="161.20" stroke="#2a2a2a" stroke-width="1.1" />
<text x="377.35" y="163.20" font-size="6.072" text-anchor="end" fill="#2a2a2a" font-weight="normal" textLength="11.01" lengthAdjust="spacingAndGlyphs" stroke="#2a2a2a" stroke-width="0.12" >100</text>
<line x1="382.35" y1="223.45" x2="487.00" y2="223.45" stroke="#2a2a2a" stroke-width="1.35" />
<line x1="382.95" y1="223.45" x2="382.95" y2="226.65" stroke="#2a2a2a" stroke-width="1.1" />
<text x="382.95" y="234.30" font-size="6.072" text-anchor="middle" fill="#2a2a2a" font-weight="normal" textLength="3.67" lengthAdjust="spacingAndGlyphs" stroke="#2a2a2a" stroke-width="0.12" >0</text>
<line x1="417.25" y1="223.45" x2="417.25" y2="226.65" stroke="#2a2a2a" stroke-width="1.1" />
<text x="417.25" y="234.30" font-size="6.072" text-anchor="middle" fill="#2a2a2a" font-weight="normal" textLength="7.34" lengthAdjust="spacingAndGlyphs" stroke="#2a2a2a" stroke-width="0.12" >10</text>
<line x1="451.55" y1="223.45" x2="451.55" y2="226.65" stroke="#2a2a2a" stroke-width="1.1" />
<text x="451.55" y="234.30" font-size="6.072" text-anchor="middle" fill="#2a2a2a" font-weight="normal" textLength="7.34" lengthAdjust="spacingAndGlyphs" stroke="#2a2a2a" stroke-width="0.12" >20</text>
<line x1="485.85" y1="223.45" x2="485.85" y2="226.65" stroke="#2a2a2a" stroke-width="1.1" />
<text x="485.85" y="234.30" font-size="6.072" text-anchor="middle" fill="#2a2a2a" font-weight="normal" textLength="7.34" lengthAdjust="spacingAndGlyphs" stroke="#2a2a2a" stroke-width="0.12" >30</text>
<text x="364.20" y="190.00" font-size="8.6" text-anchor="middle" fill="#2a2a2a" font-weight="normal" textLength="45.80" lengthAdjust="spacingAndGlyphs" transform="rotate(-90 364.20 190.00)" stroke="#2a2a2a" stroke-width="0.35" >Percent survival</text>
<text x="435.60" y="247.10" font-size="9.2" text-anchor="middle" fill="#2a2a2a" font-weight="normal" textLength="73.00" lengthAdjust="spacingAndGlyphs" stroke="#2a2a2a" stroke-width="0.42" >Days after transplantation</text>
<polyline fill="none" stroke="#b81e3c" stroke-width="1.2" points="434.40,161.20 441.26,161.20 441.26,168.98 448.12,168.98 448.12,184.54 451.55,184.54 451.55,192.32 458.41,192.32 458.41,200.11 461.84,200.11 461.84,207.89 468.70,207.89 468.70,215.67 475.56,215.67 475.56,223.45"/>
<polyline fill="none" stroke="#2b4b72" stroke-width="1.2" points="382.95,161.20 434.40,161.20 434.40,168.98 437.83,168.98 437.83,184.54 441.26,184.54 441.26,207.89 448.12,207.89 448.12,215.67 461.84,215.67 461.84,223.45"/>
<line x1="474.90" y1="159.50" x2="483.10" y2="159.50" stroke="#2b4b72" stroke-width="1.1" />
<line x1="479.00" y1="158.50" x2="479.00" y2="160.50" stroke="#2b4b72" stroke-width="0.7" />
<line x1="474.90" y1="168.60" x2="483.10" y2="168.60" stroke="#b81e3c" stroke-width="1.1" />
<line x1="479.00" y1="167.60" x2="479.00" y2="169.60" stroke="#b81e3c" stroke-width="0.7" />
<text x="486.90" y="162.10" font-size="6.8" text-anchor="start" fill="#2a2a2a" font-weight="normal" textLength="19.00" lengthAdjust="spacingAndGlyphs" stroke="#2a2a2a" stroke-width="0.22" >Vehicle</text>
<text x="486.90" y="171.40" font-size="7.0" text-anchor="start" fill="#2a2a2a" font-weight="normal" textLength="19.00" lengthAdjust="spacingAndGlyphs" stroke="#2a2a2a" stroke-width="0.22" >SU056</text>
<polyline points="506.9,158.2 508.7,158.2 508.7,171.0 506.9,171.0" fill="none" stroke="#1a1a1a" stroke-width="1.0"/>
<text x="512.60" y="166.60" font-size="6.4" text-anchor="middle" fill="#222" font-weight="normal" stroke="#222" stroke-width="0.2" >*</text>
<rect x="0.5" y="0.5" width="519" height="256" fill="none" stroke="#606060" stroke-width="1"/>
</svg>
</body></html>
